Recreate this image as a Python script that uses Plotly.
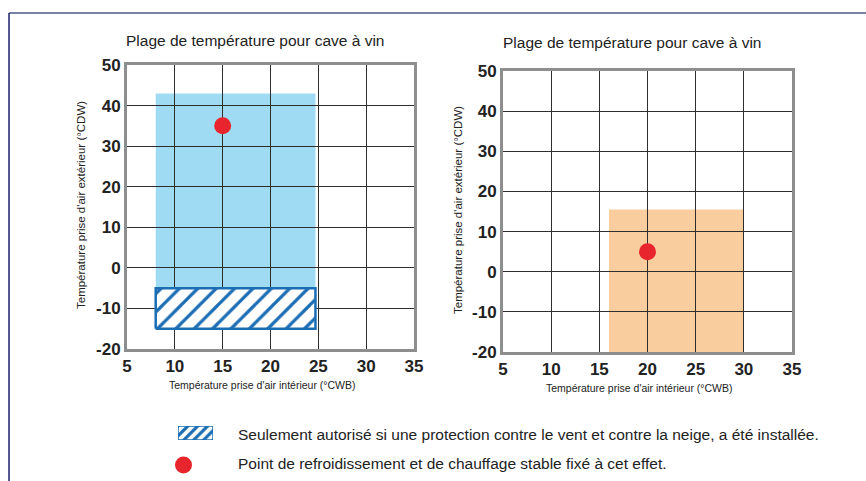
import plotly.graph_objects as go

W, H = 866, 481

# ---------------- data ----------------
title_text = "Plage de température pour cave à vin"
x_title = "Température prise d'air intérieur (°CWB)"
y_title = "Température prise d'air extérieur (°CDW)"

x_ticks = [5, 10, 15, 20, 25, 30, 35]
y_ticks = [-20, -10, 0, 10, 20, 30, 40, 50]

# cooling (left) operating range
cool_x = [8, 24.7]
cool_y = [-5, 43]
# hatched zone (wind/snow protection required)
hatch_x = [8, 24.7]
hatch_y = [-15, -5]
cool_point_x = [15]
cool_point_y = [35]

# heating (right) operating range
heat_x = [16, 30]
heat_y = [-20, 15.5]
heat_point_x = [20]
heat_point_y = [5]

legend_hatch_text = "Seulement autorisé si une protection contre le vent et contre la neige, a été installée."
legend_dot_text = "Point de refroidissement et de chauffage stable fixé à cet effet."

# ---------------- style ----------------
BLUE_FILL = "#9fdcf4"
ORANGE_FILL = "#f9cd9e"
HATCH_BLUE = "#1b6db4"
RED = "#e8252c"
GRID = "#2e2e2e"
FRAME = "#8e8e8e"
TXT = "#222222"
SANS = "Liberation Sans, Arial, sans-serif"
TICKF = dict(family=SANS, size=17, color=TXT, weight="bold")

def px_x(p):
    return p / W

def px_y(p):
    return 1 - p / H

fig = go.Figure()

# hatched zone (left)
fig.add_trace(go.Scatter(
    x=[hatch_x[0], hatch_x[1], hatch_x[1], hatch_x[0], hatch_x[0]],
    y=[hatch_y[0], hatch_y[0], hatch_y[1], hatch_y[1], hatch_y[0]],
    mode="lines", fill="toself",
    fillcolor="white",
    fillpattern=dict(shape="/", fgcolor=HATCH_BLUE, fgopacity=1, bgcolor="white",
                     size=13, solidity=0.25),
    line=dict(color=HATCH_BLUE, width=2.5),
    xaxis="x", yaxis="y", showlegend=False, hoverinfo="skip"))

fig.add_trace(go.Scatter(x=cool_point_x, y=cool_point_y, mode="markers",
                         marker=dict(color=RED, size=17), xaxis="x", yaxis="y",
                         showlegend=False))
fig.add_trace(go.Scatter(x=heat_point_x, y=heat_point_y, mode="markers",
                         marker=dict(color=RED, size=17), xaxis="x2", yaxis="y2",
                         showlegend=False))

# legend keys on hidden helper axes
fig.add_trace(go.Scatter(
    x=[0, 1, 1, 0, 0], y=[0, 0, 1, 1, 0],
    mode="lines", fill="toself", fillcolor="white",
    fillpattern=dict(shape="/", fgcolor=HATCH_BLUE, fgopacity=1, bgcolor="white",
                     size=7, solidity=0.45),
    line=dict(color=HATCH_BLUE, width=1.5),
    xaxis="x3", yaxis="y3", showlegend=False, hoverinfo="skip"))
fig.add_trace(go.Scatter(x=[0.5], y=[0.5], mode="markers",
                         marker=dict(color=RED, size=17),
                         xaxis="x4", yaxis="y4", showlegend=False, hoverinfo="skip"))

shapes = [
    dict(type="rect", xref="x", yref="y", x0=cool_x[0], x1=cool_x[1], y0=cool_y[0], y1=cool_y[1],
         fillcolor=BLUE_FILL, line=dict(width=0), layer="below"),
    dict(type="rect", xref="x2", yref="y2", x0=heat_x[0], x1=heat_x[1], y0=heat_y[0], y1=heat_y[1],
         fillcolor=ORANGE_FILL, line=dict(width=0), layer="below"),
    # outer page frame (top and left edges)
    dict(type="line", xref="paper", yref="paper", x0=px_x(9), x1=1, y0=px_y(13), y1=px_y(13),
         line=dict(color="#4b5889", width=1.5), layer="below"),
    dict(type="line", xref="paper", yref="paper", x0=px_x(9), x1=px_x(9), y0=px_y(13), y1=0,
         line=dict(color="#1c1f6b", width=1.5), layer="below"),
]

def ax(domain, vals, rng, anchor):
    return dict(domain=domain, range=rng, tickvals=vals, ticktext=[str(v) for v in vals],
                showgrid=True, gridcolor=GRID, gridwidth=1, zeroline=False,
                showline=True, linecolor=FRAME, linewidth=3, mirror=True,
                ticks="", tickfont=TICKF, anchor=anchor, fixedrange=True, automargin=False)

fig.update_layout(
    width=W, height=H, margin=dict(l=0, r=0, t=0, b=0, pad=0),
    paper_bgcolor="white", plot_bgcolor="white",
    showlegend=False,
    xaxis=ax([px_x(127), px_x(414)], x_ticks, [5, 35], "y"),
    yaxis=ax([px_y(349), px_y(65)], y_ticks, [-20, 50], "x"),
    xaxis2=ax([px_x(503), px_x(792)], x_ticks, [5, 35], "y2"),
    yaxis2=ax([px_y(352), px_y(71)], y_ticks, [-20, 50], "x2"),
    xaxis3=dict(domain=[px_x(178), px_x(213)], range=[0, 1], visible=False, anchor="y3", fixedrange=True),
    yaxis3=dict(domain=[px_y(440), px_y(426)], range=[0, 1], visible=False, anchor="x3", fixedrange=True),
    xaxis4=dict(domain=[px_x(175), px_x(192)], range=[0, 1], visible=False, anchor="y4", fixedrange=True),
    yaxis4=dict(domain=[px_y(474), px_y(456)], range=[0, 1], visible=False, anchor="x4", fixedrange=True),
    shapes=shapes,
)

ann = []
def text(x, y, t, size, angle=0, xanchor="center"):
    ann.append(dict(x=px_x(x), y=px_y(y), xref="paper", yref="paper", text=t, showarrow=False,
                    xanchor=xanchor, yanchor="middle", textangle=angle,
                    font=dict(family=SANS, size=size, color=TXT)))

text(255, 40, title_text, 15.5)
text(632, 42, title_text, 15.5)
text(262, 385, x_title, 10.5)
text(639, 388, x_title, 10.5)
text(81, 205, y_title, 11.5, angle=-90)
text(458, 210, y_title, 11.5, angle=-90)
text(236, 434, legend_hatch_text, 15.5, xanchor="left")
text(236, 463, legend_dot_text, 15.5, xanchor="left")
fig.update_layout(annotations=ann)

fig.write_html("out.html", config={"displayModeBar": False},
               post_script="document.body.style.margin='0';document.body.style.overflow='hidden';")
